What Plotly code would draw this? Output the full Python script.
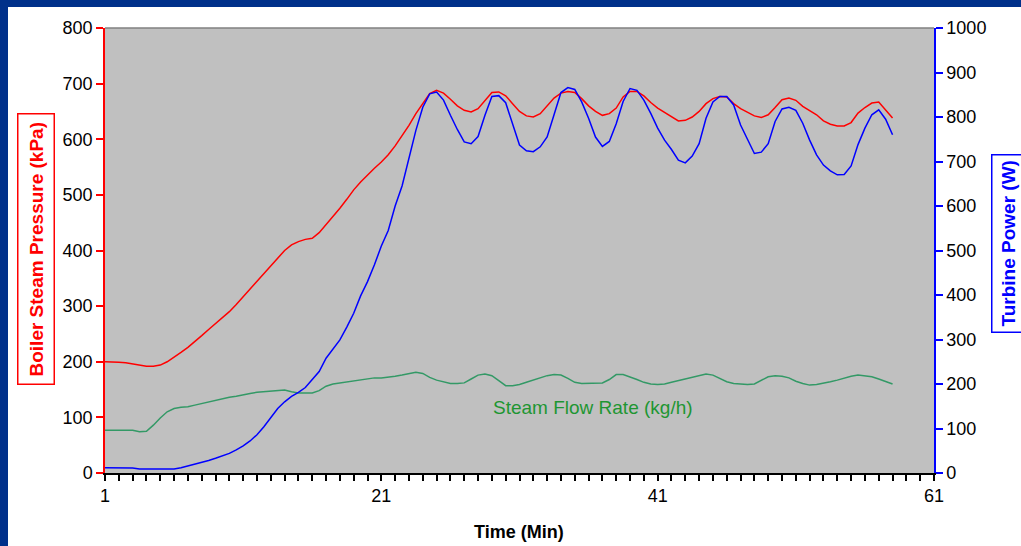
import plotly.graph_objects as go

time_min = [1, 1.5, 2, 2.5, 3, 3.5, 4, 4.5, 5, 5.5, 6, 6.5, 7, 7.5, 8, 8.5, 9, 9.5, 10, 10.5,
            11, 11.5, 12, 12.5, 13, 13.5, 14, 14.5, 15, 15.5, 16, 16.5, 17, 17.5, 18, 18.5, 19, 19.5, 20, 20.5,
            21, 21.5, 22, 22.5, 23, 23.5, 24, 24.5, 25, 25.5, 26, 26.5, 27, 27.5, 28, 28.5, 29, 29.5, 30, 30.5,
            31, 31.5, 32, 32.5, 33, 33.5, 34, 34.5, 35, 35.5, 36, 36.5, 37, 37.5, 38, 38.5, 39, 39.5, 40, 40.5,
            41, 41.5, 42, 42.5, 43, 43.5, 44, 44.5, 45, 45.5, 46, 46.5, 47, 47.5, 48, 48.5, 49, 49.5, 50, 50.5,
            51, 51.5, 52, 52.5, 53, 53.5, 54, 54.5, 55, 55.5, 56, 56.5, 57, 57.5, 58]

boiler_pressure_kpa = [200, 200, 199, 198, 196, 194, 192, 192, 194, 200, 208, 217, 226, 236, 247, 258, 269, 280, 290, 303,
                       317, 330, 344, 359, 374, 388, 400, 410, 416, 420, 422, 432, 446, 461, 476, 492, 509, 523, 536, 548,
                       559, 572, 588, 606, 625, 646, 665, 682, 688, 683, 672, 660, 652, 649, 655, 670, 684, 685, 678, 664,
                       650, 642, 640, 646, 660, 674, 683, 686, 684, 673, 660, 650, 643, 646, 656, 676, 686, 686, 678, 666,
                       656, 648, 640, 633, 634, 640, 650, 664, 673, 677, 676, 664, 655, 649, 642, 639, 644, 657, 671, 674,
                       670, 659, 651, 644, 633, 627, 624, 624, 630, 647, 657, 665, 667, 653, 638]

turbine_power_w = [12, 12, 12, 12, 11, 9, 9, 9, 9, 9, 9, 12, 16, 19, 23, 28, 33, 38, 44, 52,
                   61, 72, 86, 104, 125, 145, 160, 172, 181, 192, 210, 228, 258, 278, 299, 328, 359, 398, 430, 468,
                   510, 545, 600, 645, 705, 770, 822, 852, 856, 838, 804, 772, 744, 740, 756, 804, 846, 848, 832, 787,
                   737, 724, 722, 733, 755, 805, 855, 866, 862, 834, 797, 755, 734, 745, 785, 835, 864, 860, 838, 808,
                   775, 748, 727, 703, 697, 712, 740, 797, 834, 846, 846, 827, 782, 750, 718, 721, 740, 790, 818, 822,
                   815, 786, 748, 715, 692, 679, 670, 671, 690, 738, 775, 805, 816, 795, 760]

steam_flow_kgh = [77, 77, 77, 77, 77, 74, 75, 86, 99, 110, 116, 118, 119, 122, 125, 128, 131, 134, 136, 138,
                  141, 143, 145, 146, 148, 149, 149, 146, 144, 144, 144, 148, 156, 160, 162, 164, 166, 168, 170, 171,
                  171, 172, 174, 176, 179, 181, 179, 172, 167, 164, 161, 161, 162, 169, 176, 178, 175, 166, 157, 157,
                  159, 163, 167, 171, 175, 177, 176, 170, 163, 161, 161, 161, 162, 168, 177, 177, 173, 168, 163, 160,
                  159, 160, 163, 166, 169, 172, 175, 178, 176, 170, 164, 161, 160, 159, 160, 167, 173, 175, 174, 171,
                  165, 161, 158, 159, 161, 164, 167, 171, 174, 176, 175, 173, 169, 164, 160]

x_tick_vals = [1, 21, 41, 61]

FONT = "Liberation Sans, Arial, sans-serif"
W, H = 1021, 546
ML, MR, MT, MB = 105, 87, 28, 73
PW, PH = W - ML - MR, H - MT - MB


def px_x(p):
    return (p - ML) / PW


def px_y(p):
    return (H - MB - p) / PH


fig = go.Figure()
fig.add_trace(go.Scatter(x=time_min, y=boiler_pressure_kpa, mode="lines",
                         line=dict(color="#FF0000", width=1.5), yaxis="y", name="Boiler Steam Pressure"))
fig.add_trace(go.Scatter(x=time_min, y=steam_flow_kgh, mode="lines",
                         line=dict(color="#339966", width=1.5), yaxis="y", name="Steam Flow Rate"))
fig.add_trace(go.Scatter(x=time_min, y=turbine_power_w, mode="lines",
                         line=dict(color="#0000FF", width=1.5), yaxis="y2", name="Turbine Power"))

fig.update_layout(
    width=W, height=H,
    margin=dict(l=ML, r=MR, t=MT, b=MB, pad=0),
    paper_bgcolor="white",
    plot_bgcolor="#C0C0C0",
    showlegend=False,
    font=dict(family=FONT, size=18, color="black"),
    xaxis=dict(range=[1, 61], tickvals=x_tick_vals, ticktext=[str(v) for v in x_tick_vals],
               showgrid=False, zeroline=False, showline=True, linecolor="black", linewidth=1.5,
               ticks="outside", ticklen=6, tickcolor="black", tickwidth=1.5,
               minor=dict(dtick=1, tick0=1, ticks="outside", ticklen=6, tickcolor="black", tickwidth=1.5, showgrid=False),
               tickfont=dict(size=18), fixedrange=True),
    yaxis=dict(range=[0, 800], dtick=100, tick0=0, showgrid=False, zeroline=False,
               showline=True, linecolor="#FF0000", linewidth=1.5,
               ticks="outside", ticklen=7, tickcolor="#FF0000", tickwidth=1.5,
               tickfont=dict(size=18)),
    yaxis2=dict(range=[0, 1000], dtick=100, tick0=0, overlaying="y", side="right",
                showgrid=False, zeroline=False, showline=True, linecolor="#0000FF", linewidth=1.5,
                ticks="outside", ticklen=7, tickcolor="#0000FF", tickwidth=1.5,
                tickfont=dict(size=18)),
)

# dark blue slide border (top and left)
fig.add_shape(type="rect", xref="paper", yref="paper", x0=px_x(-20), x1=px_x(W + 20), y0=px_y(7), y1=px_y(-20),
              fillcolor="#00308A", line_width=0, layer="above")
fig.add_shape(type="rect", xref="paper", yref="paper", x0=px_x(-20), x1=px_x(8), y0=px_y(H + 20), y1=px_y(-20),
              fillcolor="#00308A", line_width=0, layer="above")
# top border of the plot area
fig.add_shape(type="line", xref="paper", yref="paper", x0=0, x1=1, y0=1, y1=1,
              line=dict(color="#808080", width=1.5))

fig.add_annotation(text="<b>Boiler Steam Pressure (kPa)</b>", xref="paper", yref="paper",
                   x=px_x(36), y=px_y(249), xanchor="center", yanchor="middle",
                   textangle=-90, showarrow=False,
                   font=dict(size=19, color="#FF0000"), bgcolor="white",
                   bordercolor="#FF0000", borderwidth=1.5, borderpad=7)
fig.add_annotation(text="<b>Turbine Power (W)</b>", xref="paper", yref="paper",
                   x=px_x(1008), y=px_y(244), xanchor="center", yanchor="middle",
                   textangle=-90, showarrow=False,
                   font=dict(size=19, color="#0000FF"), bgcolor="white",
                   bordercolor="#0000FF", borderwidth=1.5, borderpad=5)
fig.add_annotation(text="<b>Time (Min)</b>", xref="paper", yref="paper",
                   x=px_x(519), y=px_y(532), xanchor="center", yanchor="middle", showarrow=False,
                   font=dict(size=18, color="black"))
fig.add_annotation(text="Steam Flow Rate (kg/h)", xref="x", yref="y",
                   x=36.3, y=117, xanchor="center", yanchor="middle", showarrow=False,
                   font=dict(size=19, color="#1E9632"))

fig.write_html("out.html")
